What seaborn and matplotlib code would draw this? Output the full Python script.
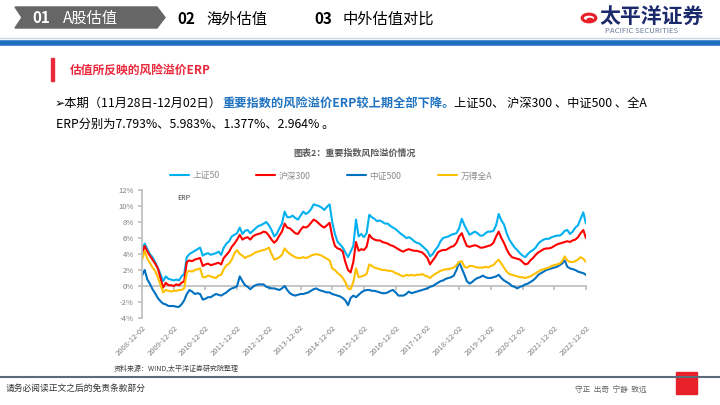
import seaborn as sns
import matplotlib.pyplot as plt
import matplotlib.dates as mdates
from matplotlib.patches import Polygon, Rectangle, Circle
from matplotlib.lines import Line2D
from matplotlib.ticker import FuncFormatter
import pandas as pd

sns.set_theme(style='white')
plt.rcParams['font.family'] = ['Noto Sans CJK SC', 'DejaVu Sans']

# monthly ERP readings (%), Dec 2008 .. Dec 2022
months = pd.date_range('2008-12-01', '2022-12-01', freq='MS')
series_names = ['上证50', '沪深300', '中证500', '万得全A']
series_colors = ['#00B0F0', '#FF0000', '#0070C0', '#FFC000']

sz50 = [4.5, 5.3, 4.6, 4.0, 3.6, 3.0, 2.3, 1.5, 0.6, 1.2, 0.9, 0.8,
        0.7, 0.8, 0.7, 1.2, 1.5, 3.6, 4.0, 4.2, 4.4, 4.6, 4.8, 3.8,
        4.0, 4.1, 3.9, 4.0, 4.1, 4.3, 3.9, 4.8, 5.3, 5.6, 6.2, 6.4,
        6.6, 7.3, 6.5, 6.9, 7.0, 6.6, 6.9, 7.2, 7.5, 7.6, 7.8, 8.0,
        7.6, 7.0, 6.2, 6.5, 7.2, 7.8, 9.3, 8.6, 8.6, 8.8, 8.5, 8.3,
        8.8, 9.3, 9.0, 9.2, 9.6, 10.2, 10.1, 10.0, 9.8, 9.5, 9.9, 10.2,
        8.0, 6.5, 5.5, 5.2, 4.8, 4.2, 3.6, 4.3, 5.0, 8.3, 6.2, 6.5,
        6.1, 6.6, 8.9, 8.6, 8.4, 8.1, 8.2, 8.0, 7.8, 7.8, 7.5, 7.3,
        7.1, 6.8, 6.5, 6.3, 6.0, 6.1, 5.9, 5.6, 5.4, 5.3, 5.0, 4.7,
        4.4, 3.7, 4.0, 4.5, 4.9, 5.6, 6.0, 6.1, 6.2, 6.4, 6.5, 6.6,
        7.2, 8.4, 7.6, 7.0, 6.4, 6.6, 6.8, 6.6, 6.3, 6.3, 6.6, 6.8,
        6.8, 6.9, 7.6, 9.0, 8.2, 7.7, 6.6, 5.8, 5.3, 4.8, 4.5, 4.1,
        3.8, 3.6, 4.0, 4.3, 4.5, 4.8, 5.3, 5.6, 5.8, 5.9, 5.9, 6.1,
        6.2, 6.3, 6.3, 6.5, 6.9, 7.0, 6.5, 6.8, 7.3, 7.6, 8.4, 9.2,
        7.8]
hs300 = [4.0, 5.0, 4.3, 3.8, 3.3, 2.8, 2.2, 1.0, -0.2, 0.4, 0.1, 0.1,
         0.0, 0.2, 0.1, 0.4, 0.6, 3.0, 3.2, 3.1, 3.3, 3.4, 3.5, 2.5,
         2.7, 2.8, 2.6, 2.7, 2.8, 2.9, 2.7, 3.5, 3.9, 4.3, 4.9, 5.3,
         5.8, 6.4, 5.8, 6.0, 6.1, 5.8, 6.2, 6.4, 6.5, 6.6, 6.8, 6.7,
         6.3, 5.8, 5.4, 5.7, 6.3, 6.8, 7.8, 7.3, 7.2, 6.9, 6.6, 6.5,
         7.0, 7.4, 7.3, 7.5, 7.9, 8.3, 8.1, 7.8, 7.5, 7.3, 7.6, 7.9,
         6.2, 5.0, 4.7, 4.6, 4.3, 3.0, 2.0, 1.7, 3.0, 5.5, 4.4, 4.6,
         4.5, 4.9, 6.4, 6.0, 5.8, 5.7, 5.7, 5.5, 5.4, 5.3, 5.1, 5.0,
         4.8, 4.6, 4.4, 4.3, 4.5, 4.6, 4.5, 4.4, 4.4, 4.3, 4.2, 3.9,
         3.5, 2.7, 3.2, 3.6, 4.2, 4.4, 4.5, 4.5, 4.7, 4.9, 5.0, 5.4,
         6.2, 6.6, 5.7, 5.0, 4.9, 5.0, 5.1, 5.0, 4.8, 4.8, 4.9, 5.0,
         5.1, 5.4, 6.2, 6.8, 6.0, 5.4, 4.6, 4.0, 3.6, 3.5, 3.4, 3.3,
         3.0, 2.7, 2.8, 3.2, 3.5, 3.9, 4.2, 4.4, 4.6, 4.7, 4.7, 4.8,
         5.0, 5.2, 5.3, 5.4, 5.5, 5.6, 5.5, 5.7, 5.8, 6.1, 6.6, 7.0,
         6.0]
zz500 = [1.3, 2.0, 0.8, 0.3, -0.4, -0.9, -1.5, -1.9, -2.2, -2.3, -2.5, -2.5,
         -2.5, -2.6, -2.6, -2.3, -1.8, -1.0, -0.5, -0.7, -1.0, -0.9, -1.0, -1.7,
         -1.6, -1.4, -1.4, -1.2, -1.0, -1.1, -1.2, -1.0, -0.8, -0.5, -0.3, -0.2,
         0.0, 1.2, 0.6, 0.1, -0.1, -0.4, -0.1, 0.1, 0.2, 0.2, 0.2, -0.1,
         -0.2, -0.3, -0.3, -0.4, -0.5, -0.3, 0.0, -0.5, -0.9, -1.1, -1.2, -1.1,
         -1.0, -1.0, -0.9, -0.8, -0.6, -0.4, -0.3, -0.5, -0.6, -0.7, -0.8, -0.8,
         -1.0, -1.1, -1.2, -1.3, -1.5, -1.8, -2.4, -1.5, -1.2, -1.4, -1.1, -0.8,
         -0.6, -0.5, -0.5, -0.6, -0.6, -0.7, -0.8, -0.9, -0.9, -0.8, -0.6, -0.5,
         -0.8, -1.2, -1.2, -1.2, -1.0, -0.7, -0.9, -0.8, -0.7, -0.6, -0.5, -0.4,
         -0.3, -0.1, 0.0, 0.2, 0.4, 0.6, 0.7, 0.9, 1.0, 1.1, 1.3, 2.0,
         3.0, 2.2, 1.4, 0.6, 0.3, 0.5, 0.8, 1.0, 1.1, 1.3, 1.1, 1.0,
         1.0, 1.1, 1.2, 1.4, 1.0, 0.7, 0.5, 0.3, 0.0, -0.1, -0.3, -0.1,
         0.0, 0.2, 0.3, 0.5, 0.7, 1.0, 1.4, 1.6, 1.8, 2.0, 2.1, 2.2,
         2.3, 2.4, 2.6, 2.8, 3.2, 2.4, 2.2, 2.1, 2.0, 1.8, 1.7, 1.6,
         1.4]
wind_a = [3.2, 4.4, 3.4, 2.9, 2.3, 1.9, 1.1, 0.2, -0.8, -0.5, -0.6, -0.7,
          -0.6, -0.6, -0.5, -0.5, -0.3, 1.7, 1.9, 1.8, 2.0, 2.1, 2.2, 1.1,
          1.1, 1.3, 1.2, 1.1, 1.0, 1.3, 1.4, 2.1, 2.6, 2.8, 3.3, 4.1,
          4.5, 4.0, 3.8, 3.5, 3.7, 3.8, 4.0, 4.2, 4.3, 4.4, 4.5, 4.6,
          4.8, 4.0, 3.3, 3.4, 3.6, 3.9, 4.7, 4.3, 4.0, 3.8, 3.6, 3.5,
          3.5, 3.6, 3.5, 3.6, 3.8, 3.9, 4.0, 3.9, 3.8, 3.6, 3.4, 3.2,
          2.2, 2.0, 1.6, 1.4, 1.0, 0.5, -0.3, -0.4, 0.5, 2.2, 1.1, 1.2,
          1.3, 1.5, 2.7, 2.5, 2.3, 2.2, 2.1, 2.0, 2.0, 1.9, 1.9, 1.8,
          1.6, 1.5, 1.3, 1.2, 1.4, 1.3, 1.4, 1.3, 1.4, 1.4, 1.5, 1.3,
          1.2, 1.0, 1.3, 1.5, 1.7, 1.9, 2.0, 2.1, 2.1, 2.2, 2.3, 2.6,
          3.0, 3.1, 2.4, 2.3, 2.5, 2.5, 2.4, 2.3, 2.3, 2.3, 2.4, 2.3,
          2.5, 2.6, 3.0, 3.3, 2.8, 2.3, 1.8, 1.5, 1.4, 1.3, 1.2, 1.1,
          1.1, 1.0, 1.1, 1.2, 1.4, 1.6, 1.8, 2.0, 2.1, 2.2, 2.3, 2.5,
          2.6, 2.7, 2.8, 3.1, 3.7, 3.2, 3.0, 3.0, 3.1, 3.3, 3.6, 3.4,
          3.0]

year_ticks = pd.to_datetime([f'{y}-12-02' for y in range(2008, 2023)])

df = pd.DataFrame({'date': months, '上证50': sz50, '沪深300': hs300,
                   '中证500': zz500, '万得全A': wind_a})
df = df.melt(id_vars='date', var_name='series', value_name='erp')

W, H = 720, 405
def fx(x):
    return x / W
def fy(y):
    return 1 - y / H

fig = plt.figure(figsize=(7.2, 4.05), dpi=100)
renderer = fig.canvas.get_renderer()

# ---- page header
fig.patches.append(Polygon([(fx(15), fy(7)), (fx(157), fy(7)), (fx(165), fy(17.5)),
                            (fx(157), fy(28)), (fx(15), fy(28)), (fx(22), fy(17.5))],
                           closed=True, transform=fig.transFigure, color='#666666'))
fig.text(fx(32), fy(18), '01', color='white', fontsize=11, fontweight='bold', va='center')
fig.text(fx(63), fy(18), 'A股估值', color='white', fontsize=11, va='center')
fig.text(fx(177), fy(19), '02', color='black', fontsize=11, fontweight='bold', va='center')
fig.text(fx(206), fy(19), '海外估值', color='black', fontsize=11, va='center')
fig.text(fx(314), fy(19), '03', color='black', fontsize=11, fontweight='bold', va='center')
fig.text(fx(343), fy(19), '中外估值对比', color='black', fontsize=11, va='center')

fig.patches.append(Circle((fx(589), fy(18)), 0.0095, transform=fig.transFigure,
                          fill=False, edgecolor='#e8202a', linewidth=2.2))
fig.patches.append(Circle((fx(590), fy(20)), 0.004, transform=fig.transFigure,
                          color='#e8202a'))
fig.text(fx(599), fy(16), '太平洋证券', color='#1b2a6b', fontsize=15, fontweight='bold', va='center')
fig.text(fx(605), fy(31), 'PACIFIC SECURITIES', color='#6d7b9a', fontsize=5.6, va='center')

fig.add_artist(Line2D([0, 1], [fy(38), fy(38)], color='#c9d6e6', linewidth=1))
fig.add_artist(Line2D([0, 1], [fy(42.5), fy(42.5)], color='#1f6fc0', linewidth=4))

# ---- section heading and paragraph
fig.patches.append(Rectangle((fx(51), fy(81)), fx(3), 23 / H, transform=fig.transFigure,
                             color='#ea2a3c'))
fig.text(fx(70), fy(70), '估值所反映的风险溢价ERP', color='#ea2a3c', fontsize=8.5,
         fontweight='bold', va='center')

# first line: three runs placed one after another
runs = [('➢本期（11月28日-12月02日）', 'black', 'normal'),
        ('重要指数的风险溢价ERP较上期全部下降。', '#1f73c0', 'bold'),
        ('上证50、 沪深300 、中证500 、全A', 'black', 'normal')]
x_px = 55
for txt, col, wt in runs:
    t = fig.text(fx(x_px), fy(103), txt, color=col, fontsize=8.8, fontweight=wt, va='center')
    x_px = t.get_window_extent(renderer).x1
fig.text(fx(56), fy(124), 'ERP分别为7.793%、5.983%、1.377%、2.964% 。', color='black',
         fontsize=8.8, va='center')

fig.text(fx(355), fy(153), '图表2：重要指数风险溢价情况', color='#595959', fontsize=6.5,
         fontweight='bold', ha='center', va='center')

# ---- chart
ax = fig.add_axes([fx(142), fy(318), (586 - 142) / W, (318 - 190) / H])
sns.lineplot(data=df, x='date', y='erp', hue='series', hue_order=series_names,
             palette=series_colors, linewidth=1.5, ax=ax, legend=False)

ax.set_xlim(pd.Timestamp('2008-12-01'), pd.Timestamp('2022-12-02'))
ax.set_ylim(-4, 12)
ax.set_yticks(range(-4, 13, 2))
ax.yaxis.set_major_formatter(FuncFormatter(lambda v, p: f'{v:.0f}%'))
ax.set_xticks(year_ticks)
ax.set_xticklabels([d.strftime('%Y-%m-%d') for d in year_ticks], rotation=45,
                   ha='right', rotation_mode='anchor')
ax.set_xlabel('')
ax.set_ylabel('')
for side in ['top', 'right', 'bottom']:
    ax.spines[side].set_visible(False)
ax.spines['left'].set_color('#bfbfbf')
ax.tick_params(axis='y', labelsize=5.5, labelcolor='#7f7f7f', length=3, color='#bfbfbf',
               left=True, pad=3)
ax.tick_params(axis='x', labelsize=5.5, labelcolor='#7f7f7f', length=0, pad=4)

# zero line with year tick marks
zero_ax = ax.secondary_xaxis(0, transform=ax.transData)
zero_ax.set_xticks(mdates.date2num(year_ticks))
zero_ax.set_xticklabels([])
zero_ax.tick_params(length=3, color='#bfbfbf', direction='out')
zero_ax.spines['bottom'].set_color('#bfbfbf')

ax.text(0.08, 0.94, 'ERP', transform=ax.transAxes, fontsize=5, color='#404040', va='center')

handles = [Line2D([], [], color=c, linewidth=1.5) for c in series_colors]
fig.legend(handles, series_names, loc='center', bbox_to_anchor=(fx(331), fy(176)),
           ncol=4, frameon=False, fontsize=6.3, labelcolor='#8c8c8c',
           handlelength=2.2, handletextpad=0.35, columnspacing=4.2)

fig.text(fx(114), fy(369), '资料来源：WIND,太平洋证券研究院整理', color='#404040',
         fontsize=5, va='center')

# ---- footer
fig.add_artist(Line2D([0, 1], [fy(377), fy(377)], color='#5b6b7c', linewidth=1.5))
fig.text(fx(6), fy(388), '请务必阅读正文之后的免责条款部分', color='#333333', fontsize=6.3, va='center')
fig.text(fx(575), fy(391), '守正  出奇  宁静  致远', color='#666666', fontsize=5.5, va='center')
fig.patches.append(Rectangle((fx(676), fy(394)), fx(21), 22 / H, transform=fig.transFigure,
                             color='#e8202a'))

fig.savefig('out.png', dpi=100)
